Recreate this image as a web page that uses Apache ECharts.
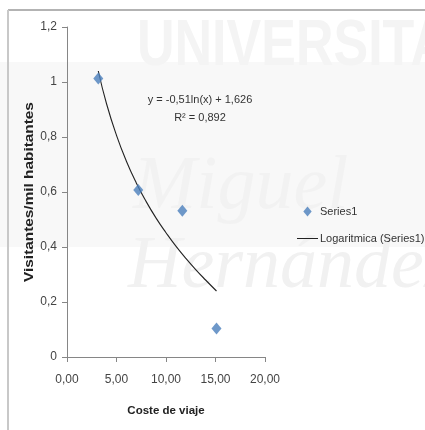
<!DOCTYPE html>
<html>
<head>
<meta charset="utf-8">
<script src="https://cdn.jsdelivr.net/npm/echarts@6/dist/echarts.min.js"></script>
<style>
html,body{margin:0;padding:0;background:#fff;}
#chart{width:425px;height:430px;}
</style>
</head>
<body>
<div id="chart"></div>
<script>
// Observed points (Coste de viaje, Visitantes/mil habitantes)
var costX = [3.16, 7.2, 11.65, 15.1];
var visitY = [1.013, 0.607, 0.532, 0.104];
// Trend line
var trendX = [3.16, 4, 5, 6, 7, 8, 9, 10, 11, 12, 13, 14, 15.1];
var trendY = [1.04, 0.92, 0.806, 0.712, 0.633, 0.565, 0.505, 0.452, 0.403, 0.359, 0.318, 0.28, 0.24];
var seriesName = 'Series1';
var trendName = 'Logaritmica (Series1)';
var equationLines = ['y = -0,51ln(x) + 1,626', 'R² = 0,892'];
var xTitle = 'Coste de viaje';
var yTitle = 'Visitantes/mil habitantes';
var xTickFormat = function(v){ return v.toFixed(2).replace('.', ','); };
var yTickFormat = function(v){ return String(Math.round(v*10)/10).replace('.', ','); };

var FONT = "'Liberation Sans',Arial,sans-serif";
var chart = echarts.init(document.getElementById('chart'));

function pairs(xs, ys){ return xs.map(function(x,i){ return [x, ys[i]]; }); }

chart.setOption({
  animation: false,
  backgroundColor: '#ffffff',
  graphic: [
    {type:'rect', silent:true, z:-10, shape:{x:0,y:62,width:425,height:185}, style:{fill:'#f8f8f8'}},
    {type:'text', silent:true, z:-9, x:137, y:15, scaleX:0.8,
      style:{text:'UNIVERSITAS', fill:'#f4f4f4', font:'bold 65px "Liberation Sans", Arial, sans-serif', verticalAlign:'top'}},
    {type:'text', silent:true, z:-9, x:133, y:150,
      style:{text:'Miguel', fill:'#f2f2f2', font:'italic 76px "Liberation Serif", serif', verticalAlign:'alphabetic'}},
    {type:'text', silent:true, z:-9, x:128, y:231,
      style:{text:'Hernández', fill:'#f1f1f1', font:'italic 74px "Liberation Serif", serif', verticalAlign:'alphabetic'}},
    {type:'line', silent:true, z:10, shape:{x1:8,y1:10,x2:425,y2:10}, style:{stroke:'#9a9a9a', lineWidth:1.5}},
    {type:'line', silent:true, z:10, shape:{x1:8,y1:10,x2:8,y2:430}, style:{stroke:'#c8c8c8', lineWidth:2}},
    {type:'text', silent:true, z:10, x:200, y:100,
      style:{text:equationLines[0], fill:'#333', font:'11px ' + FONT, align:'center', verticalAlign:'middle'}},
    {type:'text', silent:true, z:10, x:200, y:118,
      style:{text:equationLines[1], fill:'#333', font:'11px ' + FONT, align:'center', verticalAlign:'middle'}},
    {type:'text', silent:true, z:10, x:30, y:192, rotation:Math.PI/2, scaleX:1.28,
      style:{text:yTitle, fill:'#222', font:'bold 12px ' + FONT, align:'center', verticalAlign:'middle'}}
  ],
  grid: {left:67, right:160, top:27, bottom:73, containLabel:false},
  legend: {
    orient:'vertical', left:292, top:201, itemGap:16,
    itemWidth:21, itemHeight:10,
    textStyle:{fontFamily:FONT, fontSize:11, color:'#333', padding:[0,0,0,-3]},
    data:[
      {name:seriesName, icon:'path://M5,0L10,6L5,12L0,6Z'},
      {name:trendName, icon:'path://M0,0H21V1H0Z'}
    ]
  },
  xAxis: {
    type:'value', min:0, max:20, interval:5,
    name:xTitle, nameLocation:'middle', nameGap:48,
    nameTextStyle:{fontFamily:FONT, fontWeight:'bold', fontSize:11.5, color:'#222'},
    axisLine:{lineStyle:{color:'#868686'}},
    axisTick:{show:true, length:5, lineStyle:{color:'#868686'}},
    axisLabel:{fontFamily:FONT, fontSize:12, color:'#444', margin:17, formatter:xTickFormat},
    splitLine:{show:false}
  },
  yAxis: {
    type:'value', min:0, max:1.2, interval:0.2,
    axisLine:{show:true, lineStyle:{color:'#868686'}},
    axisTick:{show:true, length:5, lineStyle:{color:'#868686'}},
    axisLabel:{fontFamily:FONT, fontSize:12, color:'#444', margin:10, formatter:yTickFormat},
    splitLine:{show:false}
  },
  series: [
    {
      name:trendName, type:'line', data:pairs(trendX, trendY), smooth:true,
      showSymbol:false, symbol:'none',
      lineStyle:{color:'#222', width:1.1}, itemStyle:{color:'#222'}, z:2
    },
    {
      name:seriesName, type:'scatter', data:pairs(costX, visitY),
      symbol:'diamond', symbolSize:[10,12],
      itemStyle:{color:'#4a7ebb'}, z:3
    }
  ]
});
</script>
</body>
</html>
